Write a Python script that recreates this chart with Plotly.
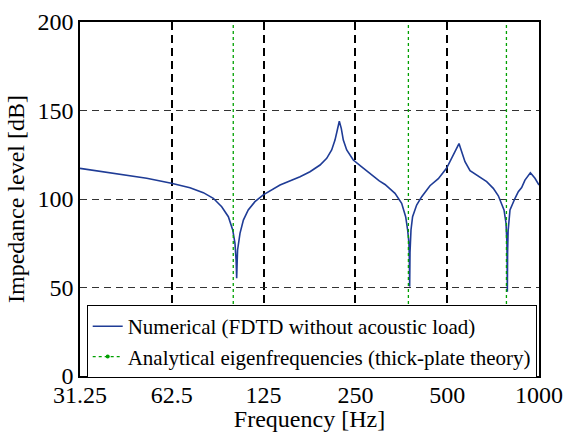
import math
import plotly.graph_objects as go

# Numerical impedance level (FDTD without acoustic load)
freq_hz = [31.25, 40.2, 51.7, 62.3, 71.7, 79.3, 85.5, 91.1, 95.8, 99.0, 100.7, 101.6,
           102.0, 102.4, 102.7, 104.6, 107.3, 111.3, 117.1, 124.7, 131.2, 141.5, 164.6,
           177.4, 191.4, 201.3, 209.0, 214.3, 218.1, 221.4, 224.7, 228.2, 234.1, 246.0,
           262.2, 279.1, 299.4, 312.6, 337.1, 354.5, 365.4, 370.9, 374.6, 375.8, 376.6,
           377.6, 380.4, 385.0, 397.0, 412.5, 439.0, 467.6, 498.0, 523.5, 537.2, 546.6,
           557.8, 571.9, 594.1, 632.5, 673.6, 708.1, 735.6, 767.8, 779.6, 785.0, 787.3,
           789.0, 792.0, 803.3, 834.4, 855.3, 877.3, 899.4, 937.0, 970.0, 1000.0]
level_db = [117.3, 114.5, 111.7, 108.9, 106.4, 103.6, 100.4, 95.6, 90.0, 82.5, 75.0, 65.0,
            55.2, 65.0, 71.2, 80.6, 88.1, 93.8, 98.5, 102.3, 104.7, 107.9, 112.6,
            115.4, 119.2, 123.0, 127.7, 133.3, 139.0, 143.9, 139.9, 133.3, 127.7, 122.0,
            118.2, 114.5, 110.2, 108.2, 103.2, 97.6, 90.0, 82.5, 75.0, 65.0, 50.5,
            70.0, 82.5, 90.0, 96.6, 101.3, 107.5, 111.5, 117.5, 124.5, 128.6, 131.3,
            126.7, 121.1, 116.0, 113.0, 109.8, 106.0, 101.8, 93.8, 86.3, 75.0, 47.6,
            70.0, 82.0, 93.8, 100.4, 104.1, 106.5, 110.7, 114.8, 111.7, 107.9]

# Analytical eigenfrequencies (thick-plate theory)
eigen_hz = [99.4, 373.0, 782.0]

x_tick_vals = [31.25, 62.5, 125, 250, 500, 1000]
x_tick_text = ["31.25", "62.5", "125", "250", "500", "1000"]
y_tick_vals = [0, 50, 100, 150, 200]

FONT = "Liberation Serif"
BLUE = "#1f3c96"
GREEN = "#00a000"

ex, ey = [], []
for f in eigen_hz:
    ex += [f, f, None]
    ey += [0, 200, None]

fig = go.Figure()
fig.add_trace(go.Scatter(x=freq_hz, y=level_db, mode="lines",
                         line=dict(color=BLUE, width=1.6),
                         name="Numerical (FDTD without acoustic load)"))
fig.add_trace(go.Scatter(x=ex, y=ey, mode="lines", showlegend=False,
                         line=dict(color=GREEN, width=1.3, dash="dot"),
                         hoverinfo="skip"))
fig.add_trace(go.Scatter(x=[None], y=[None], mode="lines+markers",
                         line=dict(color=GREEN, width=1.3, dash="dot"),
                         marker=dict(color=GREEN, size=4),
                         name="Analytical eigenfrequencies (thick-plate theory)"))

fig.update_layout(
    width=566, height=432,
    margin=dict(l=80, r=27, t=22, b=56),
    paper_bgcolor="white", plot_bgcolor="white",
    font=dict(family=FONT, size=24, color="black"),
    showlegend=True,
    legend=dict(x=0.0146, y=-0.006, xanchor="left", yanchor="bottom",
                bgcolor="white", bordercolor="black", borderwidth=1,
                font=dict(family=FONT, size=21, color="black"),
                tracegroupgap=0),
    xaxis=dict(type="log", range=[math.log10(31.25), math.log10(1000)],
               tickvals=x_tick_vals, ticktext=x_tick_text, automargin=False,
               tickfont=dict(family=FONT, size=24), ticklabelstandoff=-4,
               ticks="",
               showgrid=True, gridcolor="black", gridwidth=2, griddash="8px,5px",
               showline=True, linecolor="black", linewidth=1.5, mirror=True,
               zeroline=False,
               title=dict(text="Frequency [Hz]", standoff=0,
                          font=dict(family=FONT, size=24))),
    yaxis=dict(range=[0, 200], tickvals=y_tick_vals, automargin=False,
               tickfont=dict(family=FONT, size=24),
               showgrid=True, gridcolor="#333333", gridwidth=1.2, griddash="7px,5px",
               showline=True, linecolor="black", linewidth=1.5, mirror=True,
               ticks="", zeroline=False,
               title=dict(text="Impedance level [dB]", standoff=6,
                          font=dict(family=FONT, size=24))),
)

fig.write_html("out.html")
